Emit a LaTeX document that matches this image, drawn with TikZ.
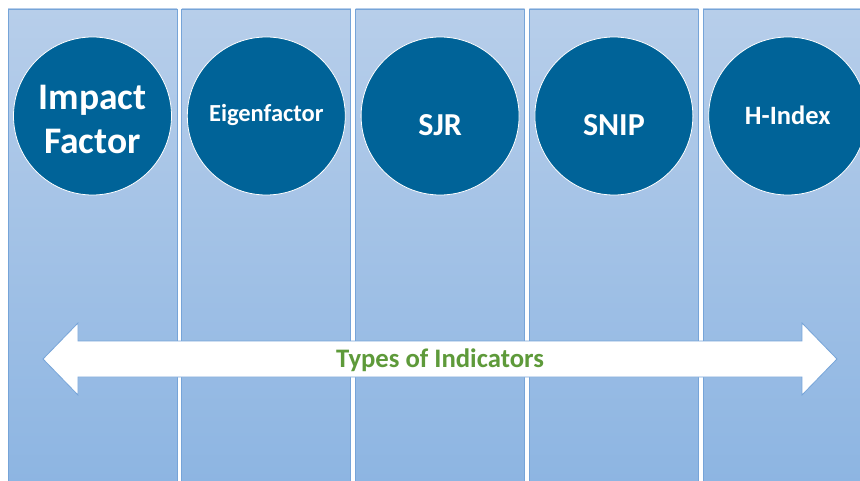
\documentclass[tikz,border=0pt]{standalone}
\usepackage{fontspec}
\setmainfont{Carlito}
\usetikzlibrary{positioning}
\definecolor{colTop}{RGB}{183,206,234}
\definecolor{colBottom}{RGB}{141,181,226}
\definecolor{colEdge}{RGB}{118,164,216}
\definecolor{circBlue}{RGB}{0,99,152}
\definecolor{typesGreen}{RGB}{94,154,58}
\begin{document}
\begin{tikzpicture}[x=1pt,y=-1pt,
  column/.style={draw=colEdge,line width=0.8pt,top color=colTop,bottom color=colBottom,
    minimum width=169pt,minimum height=474pt,inner sep=0pt},
  indicator/.style={circle,fill=circBlue,draw=white,line width=0.8pt,
    minimum size=158pt,inner sep=0pt},
  indname/.style={text=white,font=\bfseries,align=center,inner sep=0pt}]
% page
\useasboundingbox (0,0) rectangle (860,481);
\clip (0,0) rectangle (860,481);
\fill[white] (0,0) rectangle (860,481);
% columns
\node[column] (col1) at (92.5,246) {};
\node[column,right=4pt of col1] (col2) {};
\node[column,right=4pt of col2] (col3) {};
\node[column,right=4pt of col3] (col4) {};
\node[column,right=4pt of col4] (col5) {};
% circles
\node[indicator,below=28pt of col1.north] (impact) {};
\node[indicator,below=28pt of col2.north] (eigen) {};
\node[indicator,below=28pt of col3.north] (sjr) {};
\node[indicator,below=28pt of col4.north] (snip) {};
\node[indicator,below=28pt of col5.north] (hindex) {};
% circle texts
\node[indname,font=\bfseries\fontsize{37.5}{44}\selectfont] (impactname) at ([yshift=-3pt]impact.center) {Impact\\Factor};
\node[indname,font=\bfseries\fontsize{24.5}{29}\selectfont] (eigenname) at ([yshift=1pt]eigen.center) {Eigenfactor};
\node[indname,font=\bfseries\fontsize{32}{38}\selectfont] (sjrname) at ([yshift=-9pt]sjr.center) {SJR};
\node[indname,font=\bfseries\fontsize{32}{38}\selectfont] (snipname) at ([yshift=-9pt]snip.center) {SNIP};
\node[indname,font=\bfseries\fontsize{26.5}{31}\selectfont] (hindexname) at ([yshift=1pt]hindex.center) {H-Index};
% double arrow
\draw[colEdge,line width=0.8pt,fill=white]
  (43,359) -- (78,323) -- (78,341) -- (802,341) -- (802,323) -- (837,359)
  -- (802,395) -- (802,377) -- (78,377) -- (78,395) -- cycle;
\node[text=typesGreen,font=\bfseries\fontsize{26.7}{31}\selectfont] (types) at (440,360) {Types of Indicators};
\end{tikzpicture}
\end{document}
